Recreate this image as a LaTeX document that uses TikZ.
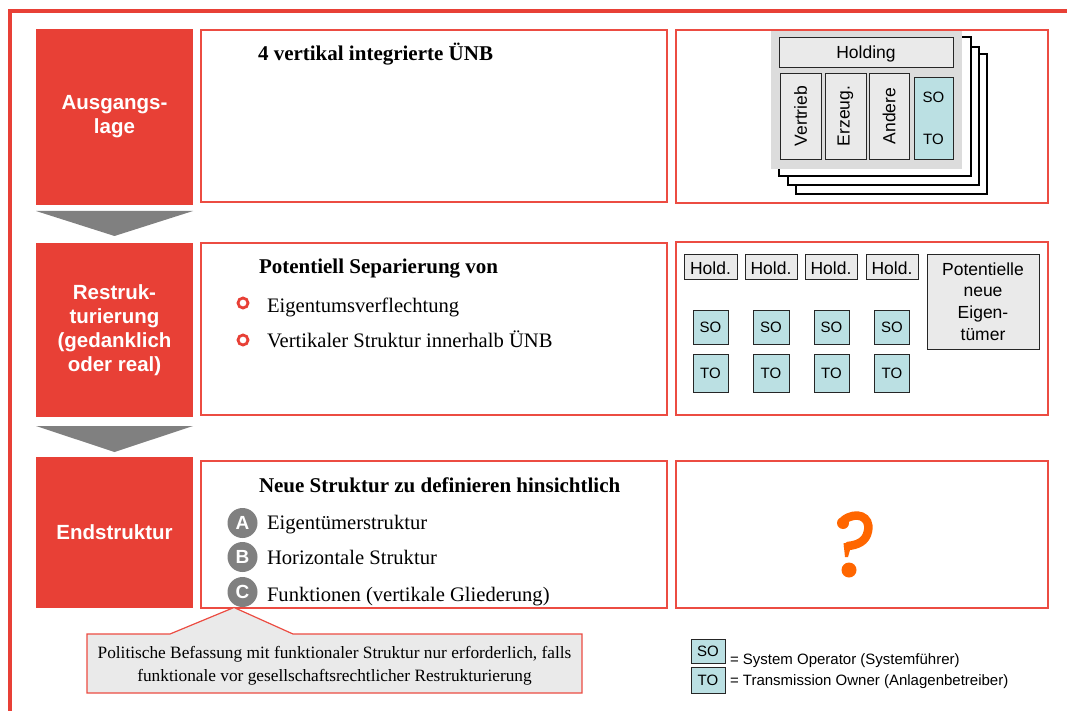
\documentclass[tikz,border=0pt]{standalone}
\usepackage{fontspec}
\setmainfont{Liberation Sans}
\newfontfamily\serif{Liberation Serif}
\usetikzlibrary{calc}

\definecolor{stagered}{RGB}{232,64,54}
\definecolor{panelred}{RGB}{236,76,66}
\definecolor{arrowgray}{RGB}{128,128,128}
\definecolor{cellgray}{RGB}{234,234,234}
\definecolor{backgray}{RGB}{220,220,220}
\definecolor{gridteal}{RGB}{187,224,227}
\definecolor{qorange}{RGB}{255,102,0}
\definecolor{badgegray}{RGB}{128,128,128}

\begin{document}
\begin{tikzpicture}[x=1pt,y=-1pt,
  every node/.style={inner sep=0pt, outer sep=0pt},
  wh/.style n args={2}{minimum width=#1, minimum height=#2},
  stage/.style={fill=stagered, text=white, font=\bfseries\fontsize{20.5}{24}\selectfont, align=center},
  panel/.style={draw=panelred, line width=1.2pt, fill=white},
  sheet/.style={draw=black, line width=1.2pt, fill=white},
  cell/.style={draw=black!85, line width=0.9pt, fill=cellgray, font=\fontsize{17.5}{21.7}\selectfont, align=center},
  grid/.style={draw=black!85, line width=0.9pt, fill=gridteal, font=\fontsize{15}{15}\selectfont},
  heading/.style={font=\serif\bfseries\fontsize{21}{25}\selectfont, anchor=base west},
  item/.style={font=\serif\fontsize{20.6}{24}\selectfont, anchor=base west},
  bulletring/.style={draw=stagered, line width=2.8pt},
  badge/.style={circle, fill=badgegray, minimum size=30pt, text=white, font=\bfseries\fontsize{19}{19}\selectfont},
  legendtext/.style={font=\fontsize{15}{15}\selectfont, anchor=base west}
]
\useasboundingbox (0,0) rectangle (1067,711);

% outer frame
\draw[stagered, line width=4pt] (1067,11) -- (10,11) -- (10,711);

% stage column
\node[stage, wh={157}{176}] (r1) at (114.5,117) {Ausgangs-\\lage};
\node[stage, wh={157}{174}] (r2) at (114.5,330) {Restruk-\\turierung\\(gedanklich\\oder real)};
\node[stage, wh={157}{151}] (r3) at (114.5,532.5) {Endstruktur};

\fill[arrowgray] ($(r1.south west)+(0,6)$) -- ($(r1.south east)+(0,6)$) -- ($(r1.south)+(0,31)$) -- cycle;
\fill[arrowgray] ($(r2.south west)+(0,9)$) -- ($(r2.south east)+(0,9)$) -- ($(r2.south)+(0,35)$) -- cycle;

% text panels
\node[panel, wh={466}{172}] (m1) at (434,116) {};
\node[panel, wh={466}{172}] (m2) at (434,329) {};
\node[panel, wh={466}{147}] (m3) at (434,534.5) {};

% picture panels
\node[panel, wh={372}{173}] (p1) at (862,116.5) {};
\node[panel, wh={372}{173}] (p2) at (862,328.5) {};
\node[panel, wh={372}{147}] (p3) at (862,534.5) {};

% row 1 text
\node[heading] (t1) at (258,61) {4 vertikal integrierte ÜNB};

% row 1 picture: stacked companies
\node[sheet, wh={191}{140}] (s3) at (891.5,124) {};
\node[sheet, wh={191}{138}] (s2) at (883.5,116) {};
\node[sheet, wh={192}{139}] (s1) at (875,106.5) {};
\node[fill=backgray, wh={191}{138}] (stack) at (866.5,100) {};
\node[cell, wh={174}{30}] (holding) at (866,52) {};
\node[font=\fontsize{17.5}{17.5}\selectfont] at ($(holding.center)+(0,1.5)$) {Holding};
\node[cell, wh={41}{86}] (vertrieb) at (800.5,116) {};
\node[cell, wh={41}{86}] (erzeug) at (845.5,116) {};
\node[cell, wh={40}{86}] (andere) at (889,116) {};
\node[grid, wh={39}{82}] (soto) at (933.5,118) {};
\node[rotate=90, font=\fontsize{17.5}{17.5}\selectfont] at (vertrieb.center) {Vertrieb};
\node[rotate=90, font=\fontsize{17.5}{17.5}\selectfont] at (erzeug.center) {Erzeug.};
\node[rotate=90, font=\fontsize{17.5}{17.5}\selectfont] at (andere.center) {Andere};
\node[font=\fontsize{15}{15}\selectfont] (so0) at (933.5,97) {SO};
\node[font=\fontsize{15}{15}\selectfont] (to0) at (933.5,139) {TO};

% row 2 text
\node[heading] (t2) at (259,273) {Potentiell Separierung von};
\coordinate (b1) at (243,303);
\coordinate (b2) at (243,340);
\draw[bulletring] (b1) circle (5);
\draw[bulletring] (b2) circle (5);
\node[item] (i1) at (267,312) {Eigentumsverflechtung};
\node[item] (i2) at (267,347) {Vertikaler Struktur innerhalb ÜNB};

% row 2 picture: separated units
\node[cell, wh={53}{25}] (h1) at (710.5,266.5) {};
\node[cell, wh={52}{25}] (h2) at (771,266.5) {};
\node[cell, wh={52}{25}] (h3) at (831,266.5) {};
\node[cell, wh={52}{25}] (h4) at (892,266.5) {};
\foreach \h in {h1,h2,h3,h4}
  \node[font=\fontsize{17.5}{17.5}\selectfont] at ($(\h.center)+(0,1.5)$) {Hold.};
\node[cell, wh={112}{95}] (owners) at (983,301.5) {Potentielle\\neue\\Eigen-\\tümer};
\node[grid, wh={35}{34}] (so1) at (710.5,327) {SO};
\node[grid, wh={36}{34}] (so2) at (771,327) {SO};
\node[grid, wh={35}{34}] (so3) at (831.5,327) {SO};
\node[grid, wh={35}{34}] (so4) at (892,327) {SO};
\node[grid, wh={35}{38}] (to1) at (710.5,373) {TO};
\node[grid, wh={36}{38}] (to2) at (771,373) {TO};
\node[grid, wh={35}{38}] (to3) at (831.5,373) {TO};
\node[grid, wh={35}{38}] (to4) at (892,373) {TO};

% callout, its tip resting on the lower text panel
\coordinate (tip) at (234,607.5);
\filldraw[fill=cellgray, draw=panelred, line width=1.2pt]
  (87,634) -- (170,634) -- (tip) -- (293,634) -- (582,634) -- (582,693) -- (87,693) -- cycle;
\node[font=\serif\fontsize{17.3}{23}\selectfont, align=center] (note) at (334.5,666)
  {Politische Befassung mit funktionaler Struktur nur erforderlich, falls\\funktionale vor gesellschaftsrechtlicher Restrukturierung};

% row 3 text
\node[heading] (t3) at (259,492) {Neue Struktur zu definieren hinsichtlich};
\node[badge] (ba) at (242.5,523) {A};
\node[badge] (bb) at (242.5,557) {B};
\node[badge] (bc) at (242.5,592) {C};
\node[item] (k1) at (267,529) {Eigentümerstruktur};
\node[item] (k2) at (267,564) {Horizontale Struktur};
\node[item] (k3) at (267,601) {Funktionen (vertikale Gliederung)};

% row 3 picture: open question
\fill[qorange] (843,523) circle (6);
\draw[qorange, line width=8.5pt, line cap=round]
  (844,520) .. controls (856,511) and (871,516) .. (868,531)
            .. controls (866,542) and (857,545) .. (848,546);
\fill[qorange] (843.5,543) -- (852,543) -- (848,557) -- (845,557) -- cycle;
\fill[qorange] (849,570) circle (7.5);

% legend
\node[grid, wh={34}{24}] (lso) at (708,651) {SO};
\node[grid, wh={34}{26}] (lto) at (708,680) {TO};
\node[legendtext] (lt1) at (730,664) {= System Operator (Systemführer)};
\node[legendtext] (lt2) at (730,685) {= Transmission Owner (Anlagenbetreiber)};
\end{tikzpicture}
\end{document}
